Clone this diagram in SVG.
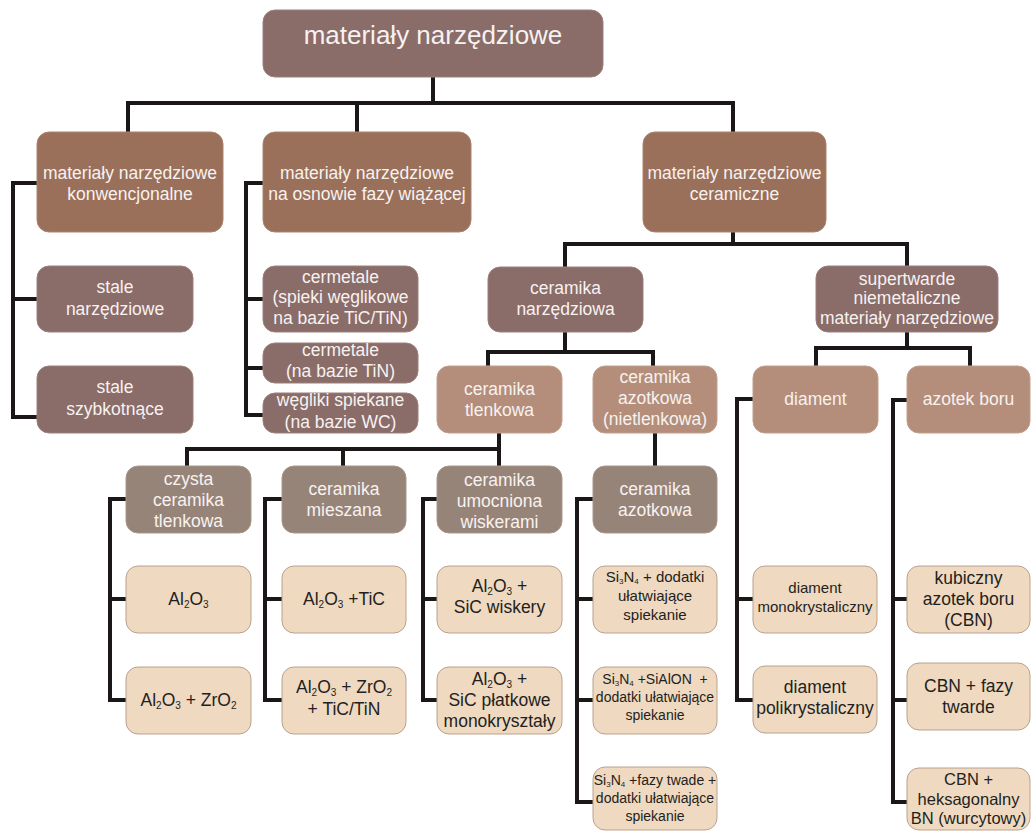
<svg xmlns="http://www.w3.org/2000/svg" width="1031" height="831" viewBox="0 0 1031 831">
<style>
text{font-family:"Liberation Sans",Arial,sans-serif;text-anchor:middle}
.w{fill:#f7f2f0;font-size:17.5px}
.d{fill:#231f20;font-size:17.5px}
.s{font-size:10px}
.r{rx:12;ry:12}
.mauve{fill:#8a6c69;stroke:#9c807d;stroke-width:1}
.brown{fill:#9a705a;stroke:#ab846f;stroke-width:1}
.lbrown{fill:#b48e7a;stroke:#c09f8d;stroke-width:1}
.gray{fill:#978478;stroke:#a9978b;stroke-width:1}
.leaf{fill:#efd9c1;stroke:#b9a28f;stroke-width:1}
.c{fill:none;stroke:#1c1717;stroke-width:4;stroke-linejoin:miter;stroke-linecap:butt}
</style>
<rect width="1031" height="831" fill="#ffffff"/>
<g id="connectors" class="c">
<path d="M433,77V103M128,132V103H733V132M357,103V132"/>
<path d="M733,232V244M565,267V244H907V266"/>
<path d="M37,183H13V417H37M13,299H37"/>
<path d="M263,183H246V415H263M246,299H263M246,368H263"/>
<path d="M565,332V352M488,366V352H653V366"/>
<path d="M907,332V348M816,366V348H970V366"/>
<path d="M499,433V449M187,466V449H499V466M343,449V466"/>
<path d="M655,433V466"/>
<path d="M126,499H110V700H126M110,599H126"/>
<path d="M282,499H265V700H282M265,599H282"/>
<path d="M437,499H423V700H437M423,599H437"/>
<path d="M593,499H577V802H593M577,599H593M577,700H593"/>
<path d="M753,399H737V700H753M737,599H753"/>
<path d="M907,400H893V802H907M893,599H907M893,700H907"/>
</g>
<g id="root"><rect class="r mauve" x="263" y="10" width="340" height="67"/><text class="w" x="433" y="44" style="font-size:26px">materiały narzędziowe</text></g>
<g id="konwencjonalne"><rect class="r brown" x="37" y="132" width="186" height="100"/><text class="w" x="130" y="179">materiały narzędziowe</text><text class="w" x="130" y="200">konwencjonalne</text></g>
<g id="faza-wiazaca"><rect class="r brown" x="263" y="132" width="208" height="100"/><text class="w" x="367" y="179">materiały narzędziowe</text><text class="w" x="367" y="200">na osnowie fazy wiążącej</text></g>
<g id="ceramiczne"><rect class="r brown" x="643" y="132" width="183" height="100"/><text class="w" x="734.5" y="179">materiały narzędziowe</text><text class="w" x="734.5" y="200">ceramiczne</text></g>
<g id="stale-narzedziowe"><rect class="r mauve" x="37" y="266" width="156" height="66"/><text class="w" x="115" y="293">stale</text><text class="w" x="115" y="315">narzędziowe</text></g>
<g id="stale-szybkotnace"><rect class="r mauve" x="37" y="366" width="156" height="67"/><text class="w" x="115" y="393">stale</text><text class="w" x="115" y="415">szybkotnące</text></g>
<g id="cermetale-spieki"><rect class="r mauve" x="263" y="266" width="155" height="66"/><text class="w" x="340.5" y="283">cermetale</text><text class="w" x="340.5" y="303">(spieki węglikowe</text><text class="w" x="340.5" y="324">na bazie TiC/TiN)</text></g>
<g id="cermetale-tin"><rect class="r mauve" x="263" y="343" width="155" height="40"/><text class="w" x="340.5" y="356">cermetale</text><text class="w" x="340.5" y="377">(na bazie TiN)</text></g>
<g id="wegliki"><rect class="r mauve" x="263" y="393" width="155" height="40"/><text class="w" x="340.5" y="406">węgliki spiekane</text><text class="w" x="340.5" y="428">(na bazie WC)</text></g>
<g id="ceramika-narzedziowa"><rect class="r mauve" x="488" y="267" width="155" height="65"/><text class="w" x="565.5" y="294">ceramika</text><text class="w" x="565.5" y="315">narzędziowa</text></g>
<g id="supertwarde"><rect class="r mauve" x="816" y="266" width="182" height="66"/><text class="w" x="907" y="285">supertwarde</text><text class="w" x="907" y="304">niemetaliczne</text><text class="w" x="907" y="324">materiały narzędziowe</text></g>
<g id="ceramika-tlenkowa"><rect class="r lbrown" x="437" y="366" width="125" height="67"/><text class="w" x="499.5" y="395">ceramika</text><text class="w" x="499.5" y="416">tlenkowa</text></g>
<g id="ceramika-nietlenkowa"><rect class="r lbrown" x="593" y="366" width="124" height="67"/><text class="w" x="655" y="383">ceramika</text><text class="w" x="655" y="404">azotkowa</text><text class="w" x="655" y="425">(nietlenkowa)</text></g>
<g id="diament"><rect class="r lbrown" x="753" y="366" width="125" height="67"/><text class="w" x="815.5" y="405">diament</text></g>
<g id="azotek-boru"><rect class="r lbrown" x="907" y="366" width="123" height="67"/><text class="w" x="968.5" y="405">azotek boru</text></g>
<g id="czysta"><rect class="r gray" x="126" y="466" width="125" height="67"/><text class="w" x="188.5" y="485">czysta</text><text class="w" x="188.5" y="506">ceramika</text><text class="w" x="188.5" y="527">tlenkowa</text></g>
<g id="mieszana"><rect class="r gray" x="282" y="466" width="124" height="67"/><text class="w" x="344" y="495">ceramika</text><text class="w" x="344" y="516">mieszana</text></g>
<g id="umocniona"><rect class="r gray" x="437" y="466" width="125" height="67"/><text class="w" x="499.5" y="486">ceramika</text><text class="w" x="499.5" y="507">umocniona</text><text class="w" x="499.5" y="528">wiskerami</text></g>
<g id="ceramika-azotkowa"><rect class="r gray" x="593" y="466" width="124" height="67"/><text class="w" x="655" y="495">ceramika</text><text class="w" x="655" y="516">azotkowa</text></g>
<g id="al2o3"><rect class="r leaf" x="126" y="566" width="125" height="67"/><text class="d" x="188.5" y="605">Al<tspan class="s" dy="3">2</tspan><tspan dy="-3">O</tspan><tspan class="s" dy="3">3</tspan></text></g>
<g id="al2o3-zro2"><rect class="r leaf" x="126" y="667" width="125" height="67"/><text class="d" x="188.5" y="706">Al<tspan class="s" dy="3">2</tspan><tspan dy="-3">O</tspan><tspan class="s" dy="3">3</tspan><tspan dy="-3"> + ZrO</tspan><tspan class="s" dy="3">2</tspan></text></g>
<g id="al2o3-tic"><rect class="r leaf" x="282" y="566" width="124" height="67"/><text class="d" x="344" y="605">Al<tspan class="s" dy="3">2</tspan><tspan dy="-3">O</tspan><tspan class="s" dy="3">3</tspan><tspan dy="-3"> +TiC</tspan></text></g>
<g id="al2o3-zro2-tic"><rect class="r leaf" x="282" y="667" width="124" height="67"/><text class="d" x="344" y="693">Al<tspan class="s" dy="3">2</tspan><tspan dy="-3">O</tspan><tspan class="s" dy="3">3</tspan><tspan dy="-3"> + ZrO</tspan><tspan class="s" dy="3">2</tspan></text><text class="d" x="344" y="715">+ TiC/TiN</text></g>
<g id="sic-wiskery"><rect class="r leaf" x="437" y="566" width="125" height="67"/><text class="d" x="499.5" y="592">Al<tspan class="s" dy="3">2</tspan><tspan dy="-3">O</tspan><tspan class="s" dy="3">3</tspan><tspan dy="-3"> +</tspan></text><text class="d" x="499.5" y="613">SiC wiskery</text></g>
<g id="sic-platkowe"><rect class="r leaf" x="437" y="667" width="125" height="67"/><text class="d" x="499.5" y="685">Al<tspan class="s" dy="3">2</tspan><tspan dy="-3">O</tspan><tspan class="s" dy="3">3</tspan><tspan dy="-3"> +</tspan></text><text class="d" x="499.5" y="706">SiC płatkowe</text><text class="d" x="499.5" y="727">monokryształy</text></g>
<g id="si3n4-dodatki"><rect class="r leaf" x="593" y="566" width="124" height="67"/><text class="d" x="655" y="582" style="font-size:15px">Si<tspan class="s" style="font-size:8px" dy="2">3</tspan><tspan dy="-2">N</tspan><tspan class="s" style="font-size:8px" dy="2">4</tspan><tspan dy="-2"> + dodatki</tspan></text><text class="d" x="655" y="601" style="font-size:15px">ułatwiające</text><text class="d" x="655" y="620" style="font-size:15px">spiekanie</text></g>
<g id="si3n4-sialon"><rect class="r leaf" x="593" y="667" width="124" height="67"/><text class="d" x="655" y="684" style="font-size:14px">Si<tspan style="font-size:8px" dy="2">3</tspan><tspan dy="-2">N</tspan><tspan style="font-size:8px" dy="2">4</tspan><tspan dy="-2"> +SiAlON&#160; +</tspan></text><text class="d" x="655" y="702" style="font-size:14px">dodatki ułatwiające</text><text class="d" x="655" y="720" style="font-size:14px">spiekanie</text></g>
<g id="si3n4-fazy"><rect class="r leaf" x="593" y="767" width="124" height="63"/><text class="d" x="655" y="785" style="font-size:14px">Si<tspan style="font-size:8px" dy="2">3</tspan><tspan dy="-2">N</tspan><tspan style="font-size:8px" dy="2">4</tspan><tspan dy="-2"> +fazy twade +</tspan></text><text class="d" x="655" y="803" style="font-size:14px">dodatki ułatwiające</text><text class="d" x="655" y="821" style="font-size:14px">spiekanie</text></g>
<g id="diament-mono"><rect class="r leaf" x="753" y="566" width="124" height="67"/><text class="d" x="815" y="593" style="font-size:15px">diament</text><text class="d" x="815" y="612" style="font-size:15px">monokrystaliczny</text></g>
<g id="diament-poli"><rect class="r leaf" x="753" y="666" width="124" height="67"/><text class="d" x="815" y="693">diament</text><text class="d" x="815" y="714">polikrystaliczny</text></g>
<g id="cbn"><rect class="r leaf" x="907" y="566" width="123" height="67"/><text class="d" x="968.5" y="584">kubiczny</text><text class="d" x="968.5" y="605">azotek boru</text><text class="d" x="968.5" y="626">(CBN)</text></g>
<g id="cbn-fazy"><rect class="r leaf" x="907" y="663" width="123" height="67"/><text class="d" x="968.5" y="692">CBN + fazy</text><text class="d" x="968.5" y="713">twarde</text></g>
<g id="cbn-heks"><rect class="r leaf" x="907" y="768" width="123" height="62"/><text class="d" x="968.5" y="785" style="font-size:16.5px">CBN +</text><text class="d" x="968.5" y="805" style="font-size:16.5px">heksagonalny</text><text class="d" x="968.5" y="824" style="font-size:16.5px">BN (wurcytowy)</text></g>
</svg>
